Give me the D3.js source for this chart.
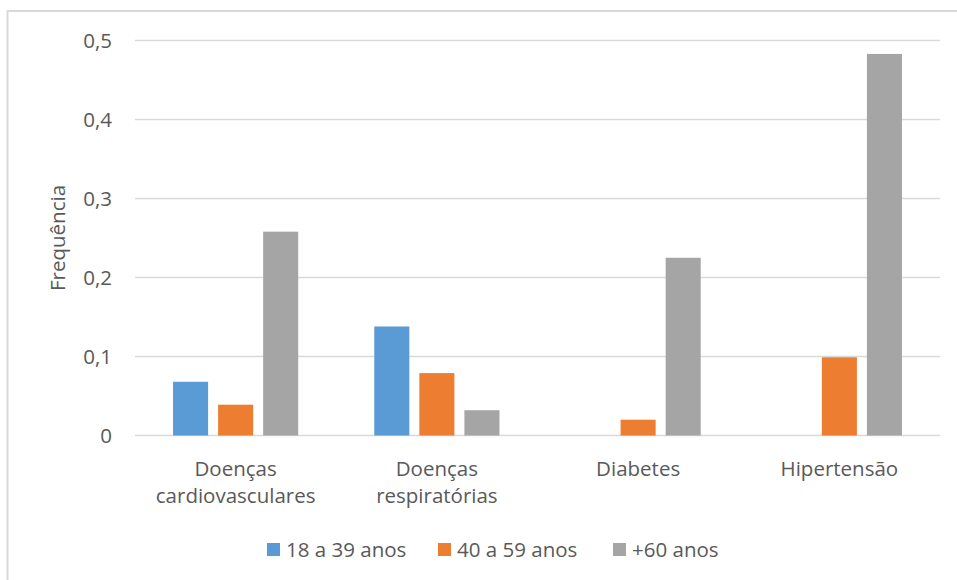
<!DOCTYPE html>
<html>
<head>
<meta charset="utf-8">
<script src="https://cdn.jsdelivr.net/npm/d3@7"></script>
<style>
  html, body { margin: 0; padding: 0; background: #fff; }
  svg { display: block; }
  text { font-family: "Open Sans", Lato, sans-serif; fill: #595959; }
</style>
</head>
<body>
<svg id="chart" width="957" height="580"></svg>
<script>
// Disease categories (two-line labels where the original wraps)
const categories = ["Doenças cardiovasculares", "Doenças respiratórias", "Diabetes", "Hipertensão"];
const categoryLines = [["Doenças", "cardiovasculares"], ["Doenças", "respiratórias"], ["Diabetes"], ["Hipertensão"]];

// Age groups
const series = ["18 a 39 anos", "40 a 59 anos", "+60 anos"];
const colors = ["#5b9bd5", "#ed7d31", "#a5a5a5"];

// Frequency per category, one array per age group
const young  = [0.068, 0.138, 0, 0];
const middle = [0.039, 0.079, 0.020, 0.099];
const senior = [0.258, 0.032, 0.225, 0.483];
const values = [young, middle, senior];

const yTicks = [0, 0.1, 0.2, 0.3, 0.4, 0.5];
const yTickLabels = ["0", "0,1", "0,2", "0,3", "0,4", "0,5"];

const fontSize = 20.5;
const svg = d3.select("#chart");

// Outer chart frame
svg.append("rect")
  .attr("x", 7.5).attr("y", 11)
  .attr("width", 960).attr("height", 580)
  .attr("fill", "none").attr("stroke", "#d9d9d9").attr("stroke-width", 2);

const plot = { left: 135, right: 940, top: 40.5, bottom: 435.5 };

const y = d3.scaleLinear().domain([0, 0.5]).range([plot.bottom, plot.top]);
const x0 = d3.scaleBand().domain(categories).range([plot.left, plot.right])
  .paddingInner(0.378).paddingOuter(0.189);
const x1 = d3.scaleBand().domain(series).range([0, x0.bandwidth()]).paddingInner(0.222);

// Horizontal gridlines
svg.append("g").selectAll("line").data(yTicks).join("line")
  .attr("x1", plot.left).attr("x2", plot.right)
  .attr("y1", d => y(d)).attr("y2", d => y(d))
  .attr("stroke", "#d9d9d9").attr("stroke-width", 1.5);

// Y tick labels
svg.append("g").selectAll("text").data(yTicks).join("text")
  .attr("x", 112).attr("y", d => y(d))
  .attr("dy", "0.35em").attr("text-anchor", "end")
  .attr("font-size", fontSize)
  .text((d, i) => yTickLabels[i]);

// Y axis title
svg.append("text")
  .attr("transform", `translate(65,${(plot.top + plot.bottom) / 2}) rotate(-90)`)
  .attr("text-anchor", "middle")
  .attr("font-size", fontSize)
  .text("Frequência");

// Bars
const groups = svg.append("g").selectAll("g").data(categories).join("g")
  .attr("transform", d => `translate(${x0(d)},0)`);

groups.selectAll("rect")
  .data((c, ci) => series.map((s, si) => ({ s, si, v: values[si][ci] })))
  .join("rect")
  .attr("x", d => x1(d.s))
  .attr("width", x1.bandwidth())
  .attr("y", d => y(d.v))
  .attr("height", d => y(0) - y(d.v))
  .attr("fill", d => colors[d.si]);

// Category labels
const catLabels = svg.append("g").selectAll("text").data(categories).join("text")
  .attr("x", d => x0(d) + x0.bandwidth() / 2)
  .attr("y", 476)
  .attr("text-anchor", "middle")
  .attr("font-size", fontSize);
catLabels.each(function (d, i) {
  d3.select(this).selectAll("tspan").data(categoryLines[i]).join("tspan")
    .attr("x", x0(d) + x0.bandwidth() / 2)
    .attr("dy", (t, j) => j === 0 ? 0 : 27)
    .text(t => t);
});

// Legend
const legendX = [267, 438, 613];
const legend = svg.append("g").selectAll("g").data(series).join("g")
  .attr("transform", (d, i) => `translate(${legendX[i]},543)`);
legend.append("rect").attr("width", 13).attr("height", 13)
  .attr("fill", (d, i) => colors[i]);
legend.append("text").attr("x", 19).attr("y", 14)
  .attr("font-size", fontSize).text(d => d);
</script>
</body>
</html>
